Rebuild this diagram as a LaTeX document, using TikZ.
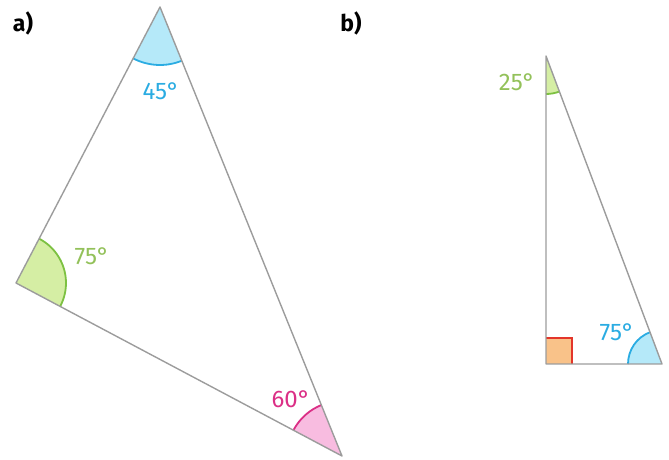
\documentclass[tikz,border=0pt]{standalone}
\usepackage{fontspec}
\setmainfont{Fira Sans}
\usetikzlibrary{angles,calc}
\definecolor{edgegray}{HTML}{9C9C9C}
\definecolor{bluefill}{HTML}{B5E9F9}
\definecolor{blueline}{HTML}{2BACE2}
\definecolor{greenfill}{HTML}{D5EEA4}
\definecolor{greenline}{HTML}{7DC142}
\definecolor{greentext}{HTML}{93C15A}
\definecolor{pinkfill}{HTML}{F8BCE0}
\definecolor{pinkline}{HTML}{DB2F86}
\definecolor{orangefill}{HTML}{F9C289}
\definecolor{redline}{HTML}{E3352A}
\tikzstyle{side} = [draw=edgegray, line width=1.4pt, line join=round]
\tikzstyle{deg} = [font=\fontsize{24}{24}\selectfont, inner sep=0pt]
\tikzstyle{arcline} = [line width=1.8pt]

\begin{document}
\begin{tikzpicture}[x=1pt, y=1pt]
      \useasboundingbox (0,0) rectangle (669,460);
      % part a
      \coordinate (A) at (160,453);
      \coordinate (L) at (16,177);
      \coordinate (R) at (342,4);
      \pic[fill=bluefill, draw=blueline, arcline, angle radius=58pt] {angle=L--A--R};
      \pic[fill=greenfill, draw=greenline, arcline, angle radius=50pt] {angle=R--L--A};
      \pic[fill=pinkfill, draw=pinkline, arcline, angle radius=55pt] {angle=A--R--L};
      \draw[side] (A) -- (L) -- (R) -- cycle;
      \node[font=\fontsize{23}{23}\selectfont\bfseries] (la) at (23,437) {a)};
      \node[deg, text=blueline] (a45) at (161,369) {45°};
      \node[deg, text=greentext] (a75) at (92,204) {75°};
      \node[deg, text=pinkline] (a60) at (291,61) {60°};
      % part b
      \coordinate (T) at (546,404);
      \coordinate (B) at (546,96);
      \coordinate (C) at (662,96);
      \pic[fill=greenfill, draw=greenline, arcline, angle radius=38pt] {angle=B--T--C};
      \pic[fill=bluefill, draw=blueline, arcline, angle radius=34pt] {angle=T--C--B};
      \fill[orangefill] (B) rectangle ++(26,26);
      \draw[redline, arcline] ($(B)+(0,26)$) -- ++(26,0) -- ++(0,-26);
      \draw[side] (T) -- (B) -- (C) -- cycle;
      \node[font=\fontsize{23}{23}\selectfont\bfseries] (lb) at (351,437) {b)};
      \node[deg, text=greentext] (b25) at (517,378) {25°};
      \node[deg, text=blueline] (b75) at (617,128) {75°};
\end{tikzpicture}
\end{document}
